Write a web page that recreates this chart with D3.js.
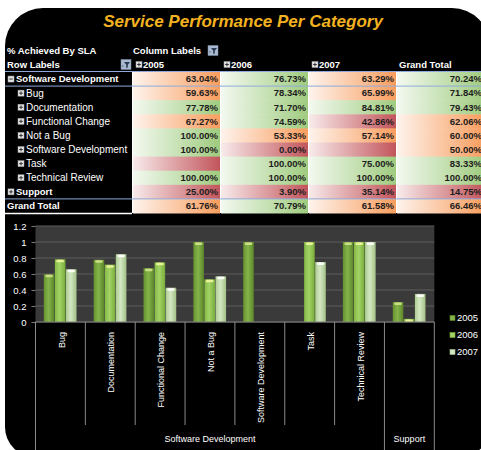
<!DOCTYPE html>
<html>
<head>
<meta charset="utf-8">
<script src="https://cdn.jsdelivr.net/npm/d3@7"></script>
<style>
  body { margin: 0; background: #fff; }
  svg { display: block; font-family: "Liberation Sans", Arial, sans-serif; }
</style>
</head>
<body>
<svg id="chart"></svg>
<script>
const years = ["2005", "2006", "2007"];
const rowLabels = ["Software Development", "Bug", "Documentation", "Functional Change", "Not a Bug",
                   "Software Development", "Task", "Technical Review", "Support", "Grand Total"];
const rowLevels = [0, 1, 1, 1, 1, 1, 1, 1, 0, 0];
const pct2005 = [63.04, 59.63, 77.78, 67.27, 100.00, 100.00, null, 100.00, 25.00, 61.76];
const pct2006 = [76.73, 78.34, 71.70, 74.59, 53.33, 0.00, 100.00, 100.00, 3.90, 70.79];
const pct2007 = [63.29, 65.99, 84.81, 42.86, 57.14, null, 75.00, 100.00, 35.14, 61.58];
const pctTotal = [70.24, 71.84, 79.43, 62.06, 60.00, 50.00, 83.33, 100.00, 14.75, 66.46];

// ---- chart categories (items of the pivot chart) ----
const chartItems = ["Bug", "Documentation", "Functional Change", "Not a Bug", "Software Development", "Task", "Technical Review", ""];
const chartGroups = ["Software Development", "Software Development", "Software Development", "Software Development",
                     "Software Development", "Software Development", "Software Development", "Support"];
const chartRows = [1, 2, 3, 4, 5, 6, 7, 8]; // rows of the table feeding the chart
const yTicks = [0, 0.2, 0.4, 0.6, 0.8, 1, 1.2];

const seriesPct = { "2005": pct2005, "2006": pct2006, "2007": pct2007 };
const W = 481, H = 450;

const svg = d3.select("#chart").attr("width", W).attr("height", H);
const defs = svg.append("defs");

// black rounded panel
const bgL = 5, bgT = 8, bgR = 490, bgB = 457, rT = 38, rB = 30;
svg.append("path")
    .attr("d", `M${bgL},${bgT + rT} A${rT},${rT} 0 0 1 ${bgL + rT},${bgT} L${bgR - rT},${bgT}
                A${rT},${rT} 0 0 1 ${bgR},${bgT + rT} L${bgR},${bgB - rB}
                A${rB},${rB} 0 0 1 ${bgR - rB},${bgB} L${bgL + rB},${bgB}
                A${rB},${rB} 0 0 1 ${bgL},${bgB - rB} Z`)
    .attr("fill", "#000");

svg.append("text")
    .attr("x", 243).attr("y", 27)
    .attr("text-anchor", "middle")
    .style("font-size", "17px").style("font-weight", "bold").style("font-style", "italic")
    .style("fill", "#f3b21f")
    .text("Service Performance Per Category");

// ---------- pivot table ----------
const rowScale = d3.scaleBand().domain(d3.range(rowLabels.length)).range([72, 213]);
const colScale = d3.scaleBand().domain([...years, "Grand Total"]).range([132, 484]);

const cellColors = { green: "#9fcb7e", orange: "#f89d5e", red: "#c2555b" };
Object.entries(cellColors).forEach(([k, c]) => {
    const g = defs.append("linearGradient").attr("id", "cell-" + k).attr("x1", 0).attr("x2", 1).attr("y1", 0).attr("y2", 0);
    g.append("stop").attr("offset", 0).attr("stop-color", d3.interpolateRgb("#fff", c)(0.12));
    g.append("stop").attr("offset", 1).attr("stop-color", c);
});
function cellKey(v) {
    if (v == null || v < 50) return "red";
    if (v < 70) return "orange";
    return "green";
}

function toggleIcon(x, y, plus) {
    const g = svg.append("g").attr("transform", `translate(${x},${y})`);
    g.append("rect").attr("width", 6).attr("height", 6).attr("fill", "#e4e4e4").attr("stroke", "#a0a0a0").attr("stroke-width", 0.5);
    g.append("line").attr("x1", 1.2).attr("x2", 4.8).attr("y1", 3).attr("y2", 3).attr("stroke", "#333").attr("stroke-width", 1);
    if (plus) g.append("line").attr("x1", 3).attr("x2", 3).attr("y1", 1.2).attr("y2", 4.8).attr("stroke", "#333").attr("stroke-width", 1);
}
function filterIcon(x, y) {
    const g = svg.append("g").attr("transform", `translate(${x},${y})`);
    g.append("rect").attr("width", 10).attr("height", 10).attr("fill", "#a9bad0").attr("stroke", "#7d8fa8").attr("stroke-width", 0.5);
    g.append("path").attr("d", "M3,2.5 L9,2.5 L6.8,5.3 L6.8,8 L5.2,8.5 L5.2,5.3 Z").attr("fill", "#2d3b52");
    g.append("path").attr("d", "M1.2,6 L2.6,6 L1.9,7.5 Z").attr("fill", "#2d3b52");
}

const hdrFont = "9.5px";
svg.append("text").attr("x", 7).attr("y", 50.5).attr("dy", "0.35em").style("font-size", hdrFont).style("font-weight", "bold").style("fill", "#fff").text("% Achieved By SLA");
svg.append("text").attr("x", 133).attr("y", 50.5).attr("dy", "0.35em").style("font-size", hdrFont).style("font-weight", "bold").style("fill", "#fff").text("Column Labels");
filterIcon(208, 45.5);
svg.append("text").attr("x", 7).attr("y", 64.5).attr("dy", "0.35em").style("font-size", hdrFont).style("font-weight", "bold").style("fill", "#fff").text("Row Labels");
filterIcon(121, 59.5);
years.forEach(yr => {
    toggleIcon(colScale(yr) + 4, 61.5, true);
    svg.append("text").attr("x", colScale(yr) + 11).attr("y", 64.5).attr("dy", "0.35em")
        .style("font-size", hdrFont).style("font-weight", "bold").style("fill", "#fff").text(yr);
});
svg.append("text").attr("x", colScale("Grand Total") + 3).attr("y", 64.5).attr("dy", "0.35em")
    .style("font-size", hdrFont).style("font-weight", "bold").style("fill", "#fff").text("Grand Total");

// white base under the coloured cells
svg.append("rect").attr("x", 132).attr("y", rowScale(0)).attr("width", 352).attr("height", rowScale.step() * rowLabels.length).attr("fill", "#fff");

const colValues = { "2005": pct2005, "2006": pct2006, "2007": pct2007, "Grand Total": pctTotal };
Object.entries(colValues).forEach(([col, vals]) => {
    const g = svg.append("g");
    g.selectAll("rect").data(vals).enter().append("rect")
        .attr("x", colScale(col) + 1)
        .attr("y", (d, i) => rowScale(i))
        .attr("width", colScale.bandwidth() - 1)
        .attr("height", rowScale.bandwidth() + 0.5)
        .attr("fill", d => `url(#cell-${cellKey(d)})`);
    g.selectAll("text").data(vals).enter().append("text")
        .attr("x", colScale(col) + colScale.bandwidth() - 2)
        .attr("y", (d, i) => rowScale(i) + rowScale.bandwidth() / 2)
        .attr("dy", "0.35em")
        .attr("text-anchor", "end")
        .style("font-size", "9.5px").style("font-weight", "bold").style("fill", "#1d1d1d")
        .text(d => d == null ? "" : d3.format(".2f")(d) + "%");
});

rowLabels.forEach((lab, i) => {
    const cy = rowScale(i) + rowScale.bandwidth() / 2;
    const lvl = rowLevels[i];
    let tx = 7;
    if (lab !== "Grand Total") {
        const ix = lvl === 0 ? 8 : 18;
        toggleIcon(ix, cy - 3, !(lvl === 0 && i === 0));
        tx = ix + 8;
    }
    svg.append("text").attr("x", tx).attr("y", cy).attr("dy", "0.35em")
        .style("font-size", lvl === 0 ? "9.5px" : "10px")
        .style("font-weight", lvl === 0 ? "bold" : "normal")
        .style("fill", "#fff").text(lab);
});

[71.5, rowScale(1), rowScale(9)].forEach(yy => {
    svg.append("line").attr("x1", 5).attr("x2", 484).attr("y1", yy).attr("y2", yy).attr("stroke", "#8eaadb").attr("stroke-width", 1);
});
svg.append("line").attr("x1", 5).attr("x2", 132).attr("y1", 213.5).attr("y2", 213.5).attr("stroke", "#fff").attr("stroke-width", 1.5);

// ---------- pivot chart ----------
const plot = { left: 35.5, right: 434.3, top: 226, bottom: 322 };
const x0 = d3.scaleBand().domain(d3.range(chartItems.length)).range([plot.left, plot.right]);
const x1 = d3.scaleBand().domain(years).range([0, x0.bandwidth()]).paddingOuter(0.75);
const y = d3.scaleLinear().domain([0, 1.2]).range([plot.bottom, plot.top]);

svg.append("rect").attr("x", plot.left).attr("y", plot.top).attr("width", plot.right - plot.left).attr("height", plot.bottom - plot.top).attr("fill", "#3a3a3a");

svg.append("g").selectAll("line").data(yTicks).enter().append("line")
    .attr("x1", plot.left).attr("x2", plot.right)
    .attr("y1", d => y(d)).attr("y2", d => y(d))
    .attr("stroke", "#5c5c5c").attr("stroke-width", 1.2);

const yAxis = svg.append("g").attr("transform", `translate(${plot.left},0)`)
    .call(d3.axisLeft(y).tickValues(yTicks).tickSize(4).tickPadding(5).tickFormat(d => String(+d.toFixed(1))));
yAxis.select(".domain").remove();
yAxis.selectAll("line").attr("stroke", "#7a7a7a");
yAxis.selectAll("text").style("fill", "#fff").style("font-size", "9.5px").style("font-family", "\"Liberation Sans\", Arial, sans-serif");

const barStyle = {
    "2005": { l: "#67922f", m: "#84b44a", r: "#5c8529", cap: "#d2e38c" },
    "2006": { l: "#84b945", m: "#a3d366", r: "#78ad3a", cap: "#f0f59c" },
    "2007": { l: "#aecb92", m: "#d3e7c2", r: "#a3c187", cap: "#ffffff" }
};
years.forEach(yr => {
    const g = defs.append("linearGradient").attr("id", "bar-" + yr).attr("x1", 0).attr("x2", 1).attr("y1", 0).attr("y2", 0);
    g.append("stop").attr("offset", 0).attr("stop-color", barStyle[yr].l);
    g.append("stop").attr("offset", 0.45).attr("stop-color", barStyle[yr].m);
    g.append("stop").attr("offset", 1).attr("stop-color", barStyle[yr].r);
});

years.forEach(yr => {
    const vals = chartRows.map((r, i) => ({ i, v: seriesPct[yr][r] == null ? null : seriesPct[yr][r] / 100 }))
        .filter(d => d.v != null && d.v > 0);
    const g = svg.append("g");
    g.selectAll("rect.bar").data(vals).enter().append("rect")
        .attr("class", "bar")
        .attr("x", d => x0(d.i) + x1(yr))
        .attr("y", d => y(d.v))
        .attr("width", x1.bandwidth() - 0.5)
        .attr("height", d => y(0) - y(d.v))
        .attr("fill", `url(#bar-${yr})`);
    g.selectAll("rect.cap").data(vals).enter().append("rect")
        .attr("class", "cap")
        .attr("x", d => x0(d.i) + x1(yr) + 1.5)
        .attr("y", d => y(d.v) + 0.5)
        .attr("width", x1.bandwidth() - 3.5)
        .attr("height", 2.5)
        .attr("rx", 1.2)
        .attr("fill", barStyle[yr].cap).attr("opacity", 0.9);
});

svg.append("line").attr("x1", plot.left).attr("x2", plot.right).attr("y1", plot.bottom).attr("y2", plot.bottom).attr("stroke", "#7a7a7a");

// separators below the axis
const groupEdges = d3.range(chartItems.length + 1).filter(i => i === 0 || i === chartItems.length || chartGroups[i] !== chartGroups[i - 1]);
svg.append("g").selectAll("line").data(d3.range(chartItems.length + 1)).enter().append("line")
    .attr("x1", i => i < chartItems.length ? x0(i) : plot.right)
    .attr("x2", i => i < chartItems.length ? x0(i) : plot.right)
    .attr("y1", plot.bottom)
    .attr("y2", i => groupEdges.includes(i) ? 452 : 425)
    .attr("stroke", "#8a8a8a").attr("stroke-width", 1);

svg.append("g").selectAll("text").data(chartItems).enter().append("text")
    .attr("transform", (d, i) => `translate(${x0(i) + x0.bandwidth() / 2 + 1},332) rotate(-90)`)
    .attr("text-anchor", "end").attr("dy", "0.35em")
    .style("font-size", "9px").style("fill", "#fff")
    .text(d => d);

const groupNames = Array.from(new Set(chartGroups));
groupNames.forEach(gn => {
    const idx = chartGroups.map((g, i) => g === gn ? i : -1).filter(i => i >= 0);
    const gx0 = x0(idx[0]), gx1 = x0(idx[idx.length - 1]) + x0.bandwidth();
    svg.append("text").attr("x", (gx0 + gx1) / 2).attr("y", 439).attr("dy", "0.35em")
        .attr("text-anchor", "middle").style("font-size", "9px").style("fill", "#fff").text(gn);
});

// legend
const legend = svg.append("g").selectAll("g").data(years).enter().append("g")
    .attr("transform", (d, i) => `translate(450,${318 + i * 17})`);
legend.append("rect").attr("x", 0).attr("y", -2.5).attr("width", 5).attr("height", 5)
    .attr("fill", d => barStyle[d].m).attr("stroke", d => barStyle[d].r).attr("stroke-width", 0.6);
legend.append("text").attr("x", 7).attr("y", 0).attr("dy", "0.35em")
    .style("font-size", "9.5px").style("fill", "#fff").text(d => d);
</script>
</body>
</html>
